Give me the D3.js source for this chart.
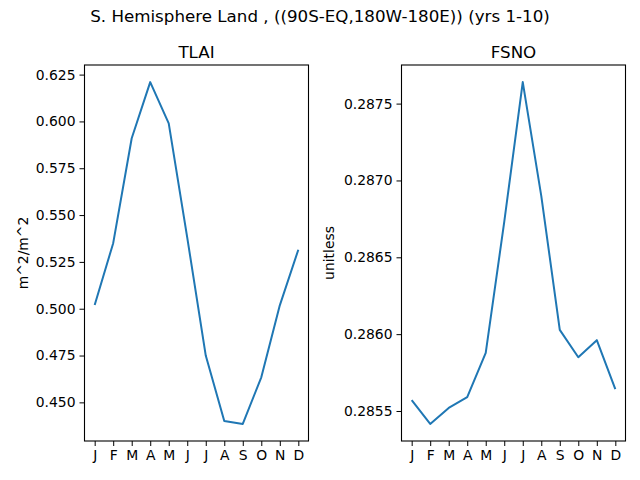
<!DOCTYPE html>
<html>
<head>
<meta charset="utf-8">
<script src="https://cdn.jsdelivr.net/npm/d3@7"></script>
<style>
  body { margin: 0; background: #fff; }
  svg text { font-family: "DejaVu Sans", sans-serif; fill: #000; }
</style>
</head>
<body>
<div id="chart"></div>
<script>
// data
var months = ["J", "F", "M", "A", "M", "J", "J", "A", "S", "O", "N", "D"];
var tlai = [0.502, 0.535, 0.591, 0.621, 0.599, 0.538, 0.475, 0.440, 0.4385, 0.4634, 0.5018, 0.5315];
var fsno = [0.28557, 0.285416, 0.28552, 0.28559, 0.285878, 0.28673, 0.28764, 0.2869, 0.286028, 0.28585, 0.285961, 0.285642];
var tlaiTicks = [0.450, 0.475, 0.500, 0.525, 0.550, 0.575, 0.600, 0.625];
var fsnoTicks = [0.2855, 0.2860, 0.2865, 0.2870, 0.2875];

var W = 640, H = 480;
var svg = d3.select("#chart").append("svg")
    .attr("width", W)
    .attr("height", H);

svg.append("text")
    .attr("x", 320)
    .attr("y", 22)
    .attr("text-anchor", "middle")
    .style("font-size", "16.7px")
    .text("S. Hemisphere Land , ((90S-EQ,180W-180E)) (yrs 1-10)");

function panel(left, right, values, ticks, fmt, title, ylabel, ylabelX) {
  var top = 65, bottom = 441;
  var idx = d3.range(values.length);

  // matplotlib style 5% margins
  var x = d3.scaleLinear()
      .domain([-0.55, 11.55])
      .range([left, right]);
  var lo = d3.min(values), hi = d3.max(values), pad = (hi - lo) * 0.05;
  var y = d3.scaleLinear()
      .domain([lo - pad, hi + pad])
      .range([bottom, top]);

  var g = svg.append("g");

  g.append("g")
      .attr("transform", "translate(0," + bottom + ")")
      .call(d3.axisBottom(x).tickValues(idx).tickFormat(function(i) { return months[i]; })
            .tickSize(5).tickPadding(4))
      .call(function(a) { a.select(".domain").remove(); });

  g.append("g")
      .attr("transform", "translate(" + left + ",0)")
      .call(d3.axisLeft(y).tickValues(ticks).tickFormat(d3.format(fmt))
            .tickSize(5).tickPadding(4))
      .call(function(a) { a.select(".domain").remove(); });

  g.selectAll(".tick text").style("font-size", "13.9px").style("font-family", "DejaVu Sans, sans-serif");
  g.selectAll(".tick line").attr("stroke", "#000").attr("stroke-width", 1);

  var line = d3.line()
      .x(function(d, i) { return x(i); })
      .y(function(d) { return y(d); });

  g.append("path")
      .datum(values)
      .attr("fill", "none")
      .attr("stroke", "#1f77b4")
      .attr("stroke-width", 2)
      .attr("stroke-linejoin", "round")
      .attr("d", line);

  g.append("rect")
      .attr("x", left)
      .attr("y", top)
      .attr("width", right - left)
      .attr("height", bottom - top)
      .attr("fill", "none")
      .attr("stroke", "#000")
      .attr("stroke-width", 1.1);

  g.append("text")
      .attr("x", (left + right) / 2)
      .attr("y", 58)
      .attr("text-anchor", "middle")
      .style("font-size", "16.7px")
      .text(title);

  g.append("text")
      .attr("transform", "translate(" + ylabelX + "," + ((top + bottom) / 2) + ") rotate(-90)")
      .attr("text-anchor", "middle")
      .style("font-size", "13.9px")
      .text(ylabel);
}

panel(84.5, 308.5, tlai, tlaiTicks, ".3f", "TLAI", "m^2/m^2", 28);
panel(401.5, 625.5, fsno, fsnoTicks, ".4f", "FSNO", "unitless", 334);
</script>
</body>
</html>
